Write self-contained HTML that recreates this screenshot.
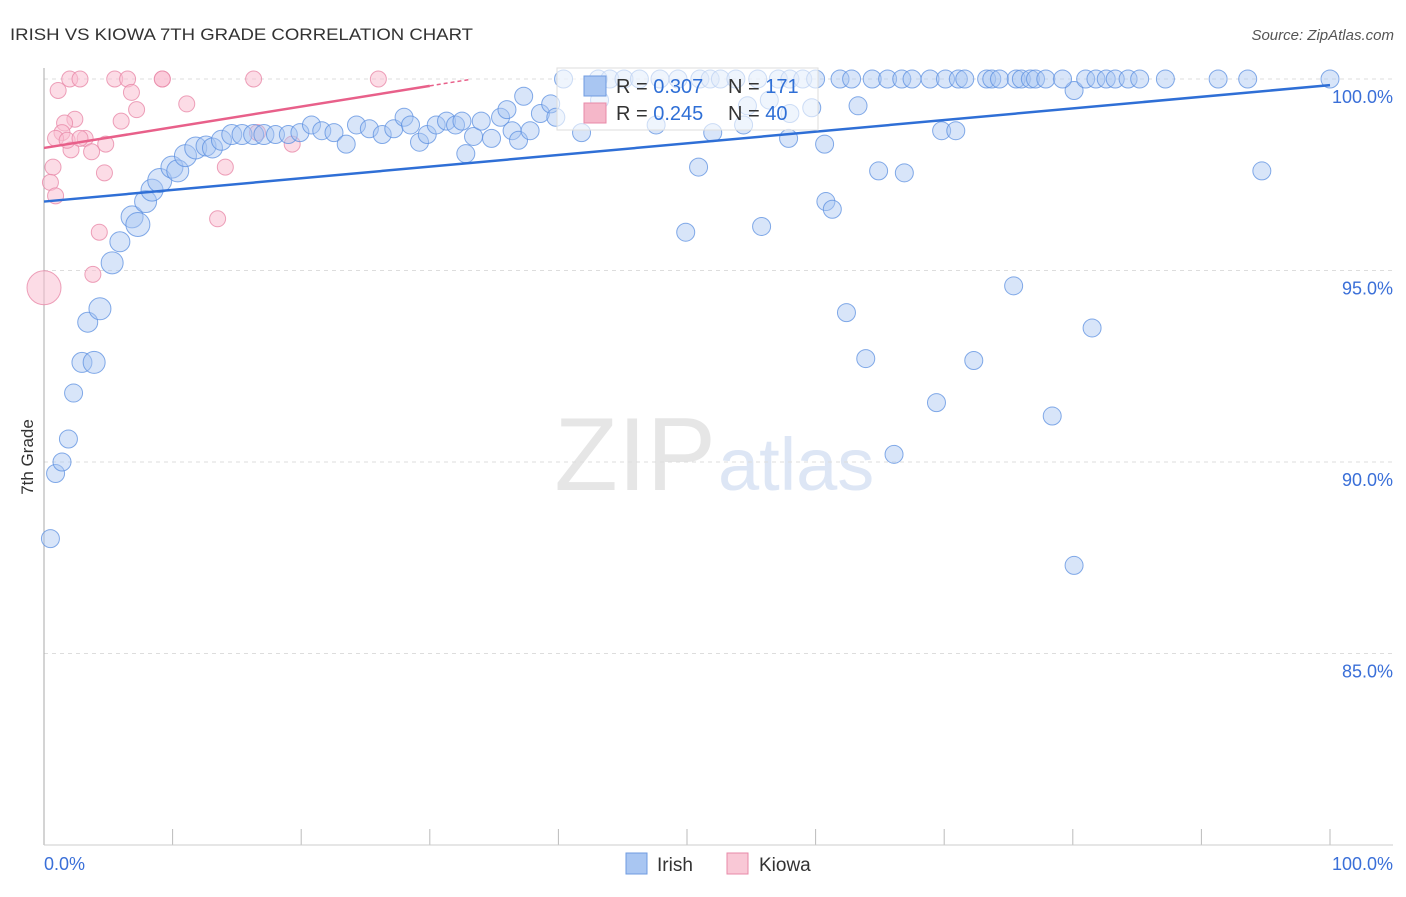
<!DOCTYPE html>
<html><head><meta charset="utf-8">
<style>
body{margin:0;background:#fff;font-family:"Liberation Sans",sans-serif;}
svg text{font-family:"Liberation Sans",sans-serif;}
</style></head>
<body>
<svg id="chart" width="1406" height="892" xmlns="http://www.w3.org/2000/svg">
<text x="10" y="40" font-size="17" fill="#333" textLength="463" lengthAdjust="spacingAndGlyphs">IRISH VS KIOWA 7TH GRADE CORRELATION CHART</text>
<text x="1394" y="40" font-size="15" fill="#555" font-style="italic" text-anchor="end">Source: ZipAtlas.com</text>
<text x="716" y="490" font-size="104" fill="#e6e6e6" text-anchor="end" font-family="Liberation Serif">ZIP</text>
<text x="718" y="490" font-size="74" fill="#dde6f5">atlas</text>
<g id="grid"></g>
<line x1="44" y1="68" x2="44" y2="845" stroke="#aaa"/>
<line x1="44" y1="845" x2="1393" y2="845" stroke="#ccc"/>
<text transform="translate(33,457) rotate(-90)" font-size="17" fill="#333" text-anchor="middle">7th Grade</text>
<text x="44" y="870" font-size="18" fill="#3a6fd8">0.0%</text>
<text x="1393" y="870" font-size="18" fill="#3a6fd8" text-anchor="end">100.0%</text>
<g id="marks"></g>
<g>
<rect x="557" y="68" width="261" height="62" fill="#fff" fill-opacity="0.6" stroke="#ddd"/>
<rect x="584" y="76" width="22" height="20" fill="#a9c6f2" stroke="#6f9be0"/>
<rect x="584" y="103" width="22" height="20" fill="#f5b7c9" stroke="#e88aa8"/>
<text x="616" y="93" font-size="20" fill="#333">R = <tspan fill="#2f6fd6">0.307</tspan></text>
<text x="728" y="93" font-size="20" fill="#333">N = <tspan fill="#2f6fd6">171</tspan></text>
<text x="616" y="120" font-size="20" fill="#333">R = <tspan fill="#2f6fd6">0.245</tspan></text>
<text x="728" y="120" font-size="20" fill="#333">N = <tspan fill="#2f6fd6">40</tspan></text>
</g>
<g>
<rect x="626" y="853" width="21" height="21" fill="#a9c6f2" stroke="#6f9be0"/>
<text x="657" y="871" font-size="19" fill="#333">Irish</text></g>
<g>
<rect x="727" y="853" width="21" height="21" fill="#f9c8d6" stroke="#e88aa8"/>
<text x="759" y="871" font-size="19" fill="#333">Kiowa</text></g>
</svg>
<script>
const yTicks=[100,95,90,85];
const yTickLabels=["100.0%","95.0%","90.0%","85.0%"];
const xTicks=[0,10,20,30,40,50,60,70,80,90,100];
const irishX=[0.5,0.9,1.4,1.9,2.3,2.95,3.9,3.4,4.35,5.3,5.9,6.85,7.3,7.9,8.4,9.0,9.95,10.4,11.0,11.8,12.6,13.1,13.8,14.6,15.4,16.3,17.1,18.0,19.0,19.9,20.8,21.6,22.55,23.5,24.3,25.3,26.3,27.2,28.0,28.5,29.2,29.8,30.5,31.3,32.0,32.5,32.8,33.4,34.0,34.8,35.5,36.0,36.4,36.9,37.3,37.8,38.6,39.4,39.8,41.8,43.2,47.6,49.9,50.9,52.0,54.4,54.7,55.8,56.4,58.0,59.7,57.9,60.7,60.8,61.3,62.4,63.3,63.9,64.9,66.1,66.9,69.4,69.8,70.9,72.3,75.4,78.4,80.1,80.1,81.5,94.7,
40.4,43.1,44.0,45.1,46.3,47.9,49.3,51.0,51.8,52.6,53.8,55.5,57.1,58.0,59.0,60.0,61.9,62.8,64.4,65.6,66.7,67.5,68.9,70.1,71.1,71.6,73.3,73.7,74.3,75.6,76.0,76.7,77.1,77.9,79.2,81.0,81.8,82.6,83.3,84.3,85.2,87.2,91.3,93.6,100];
const irishY=[88.0,89.7,90.0,90.6,91.8,92.6,92.6,93.65,94.0,95.2,95.75,96.4,96.2,96.8,97.1,97.35,97.7,97.6,98.0,98.2,98.25,98.2,98.4,98.55,98.55,98.55,98.55,98.55,98.55,98.6,98.8,98.65,98.6,98.3,98.8,98.7,98.55,98.7,99.0,98.8,98.35,98.55,98.8,98.9,98.8,98.9,98.05,98.5,98.9,98.45,99.0,99.2,98.65,98.4,99.55,98.65,99.1,99.35,99.0,98.6,99.45,98.8,96.0,97.7,98.6,98.8,99.3,96.15,99.45,99.1,99.25,98.45,98.3,96.8,96.6,93.9,99.3,92.7,97.6,90.2,97.55,91.55,98.65,98.65,92.65,94.6,91.2,87.3,99.7,93.5,97.6,
100,100,100,100,100,100,100,100,100,100,100,100,100,100,100,100,100,100,100,100,100,100,100,100,100,100,100,100,100,100,100,100,100,100,100,100,100,100,100,100,100,100,100,100,100];
const irishR=[9,9,9,9,9,10,11,10,11,11,10,11,12,11,11,12,11,11,11,11,10,10,10,10,10,10,10,9,9,9,9,9,9,9,9,9,9,9,9,9,9,9,9,9,9,9,9,9,9,9,9,9,9,9,9,9,9,9,9,9,9,9,9,9,9,9,9,9,9,9,9,9,9,9,9,9,9,9,9,9,9,9,9,9,9,9,9,9,9,9,9,
9,9,9,9,9,9,9,9,9,9,9,9,9,9,9,9,9,9,9,9,9,9,9,9,9,9,9,9,9,9,9,9,9,9,9,9,9,9,9,9,9,9,9,9,9];
const kiowaX=[1.1,2.0,2.8,5.5,6.5,6.8,9.2,9.2,16.3,26.0,7.2,11.1,6.0,2.4,1.6,1.4,0.9,3.2,4.8,2.1,3.7,0.7,0.5,0.9,4.7,14.1,13.5,4.3,3.8,0,16.6,19.3,1.8,2.8];
const kiowaY=[99.7,100,100,100,100,99.65,100,100,100,100,99.2,99.35,98.9,98.95,98.85,98.6,98.45,98.45,98.3,98.15,98.1,97.7,97.3,96.95,97.55,97.7,96.35,96.0,94.9,94.55,98.6,98.3,98.4,98.45];
const kiowaR=[8,8,8,8,8,8,8,8,8,8,8,8,8,8,8,8,8,8,8,8,8,8,8,8,8,8,8,8,8,17,8,8,8,8];
const irishTrend=[96.8,99.84];
const kiowaTrend=[98.2,99.82];
const kiowaTrendEndX=30;

const NS="http://www.w3.org/2000/svg";
const xs=v=>44+v*12.86;
const ys=v=>79+(100-v)*38.3;
const grid=document.getElementById('grid');
const marks=document.getElementById('marks');
function mk(tag,attrs,parent){const e=document.createElementNS(NS,tag);for(const k in attrs)e.setAttribute(k,attrs[k]);parent.appendChild(e);return e;}
yTicks.forEach((t,i)=>{
 const l=mk('line',{x1:44,x2:1393,y1:ys(t),y2:ys(t),stroke:'#ddd','stroke-dasharray':'4,4'},grid);
 
 
 const tx=mk('text',{x:1393,y:ys(t)+24,'font-size':18,fill:'#3a6fd8','text-anchor':'end'},grid);
 tx.textContent=yTickLabels[i];
 
 
});
xTicks.forEach(t=>{
 const l=mk('line',{x1:xs(t),x2:xs(t),y1:829,y2:845,stroke:'#bbb'},grid);
 
 
});
kiowaX.forEach((x,i)=>{
 const c=mk('circle',{cx:xs(x),cy:ys(kiowaY[i]),r:kiowaR[i],fill:'#f9c0d2','fill-opacity':0.55,stroke:'#e98aa9','stroke-opacity':0.8},marks);
 
 
});
irishX.forEach((x,i)=>{
 const c=mk('circle',{cx:xs(x),cy:ys(irishY[i]),r:irishR[i],fill:'#a9c6f2','fill-opacity':0.45,stroke:'#5b8fe0','stroke-opacity':0.75},marks);
 
 
});
const bl=mk('line',{x1:xs(0),y1:ys(irishTrend[0]),x2:xs(100),y2:ys(irishTrend[1]),stroke:'#2f6fd6','stroke-width':2.5},marks);


const ky=x=>kiowaTrend[0]+(kiowaTrend[1]-kiowaTrend[0])*x/kiowaTrendEndX;
const pl=mk('line',{x1:xs(0),y1:ys(kiowaTrend[0]),x2:xs(kiowaTrendEndX),y2:ys(kiowaTrend[1]),stroke:'#e8608a','stroke-width':2.5},marks);


const pd=mk('line',{x1:xs(kiowaTrendEndX),y1:ys(kiowaTrend[1]),x2:xs(33),y2:ys(Math.min(100,ky(33))),stroke:'#e8608a','stroke-width':1.5,'stroke-dasharray':'4,3'},marks);


</script>
</body></html>
